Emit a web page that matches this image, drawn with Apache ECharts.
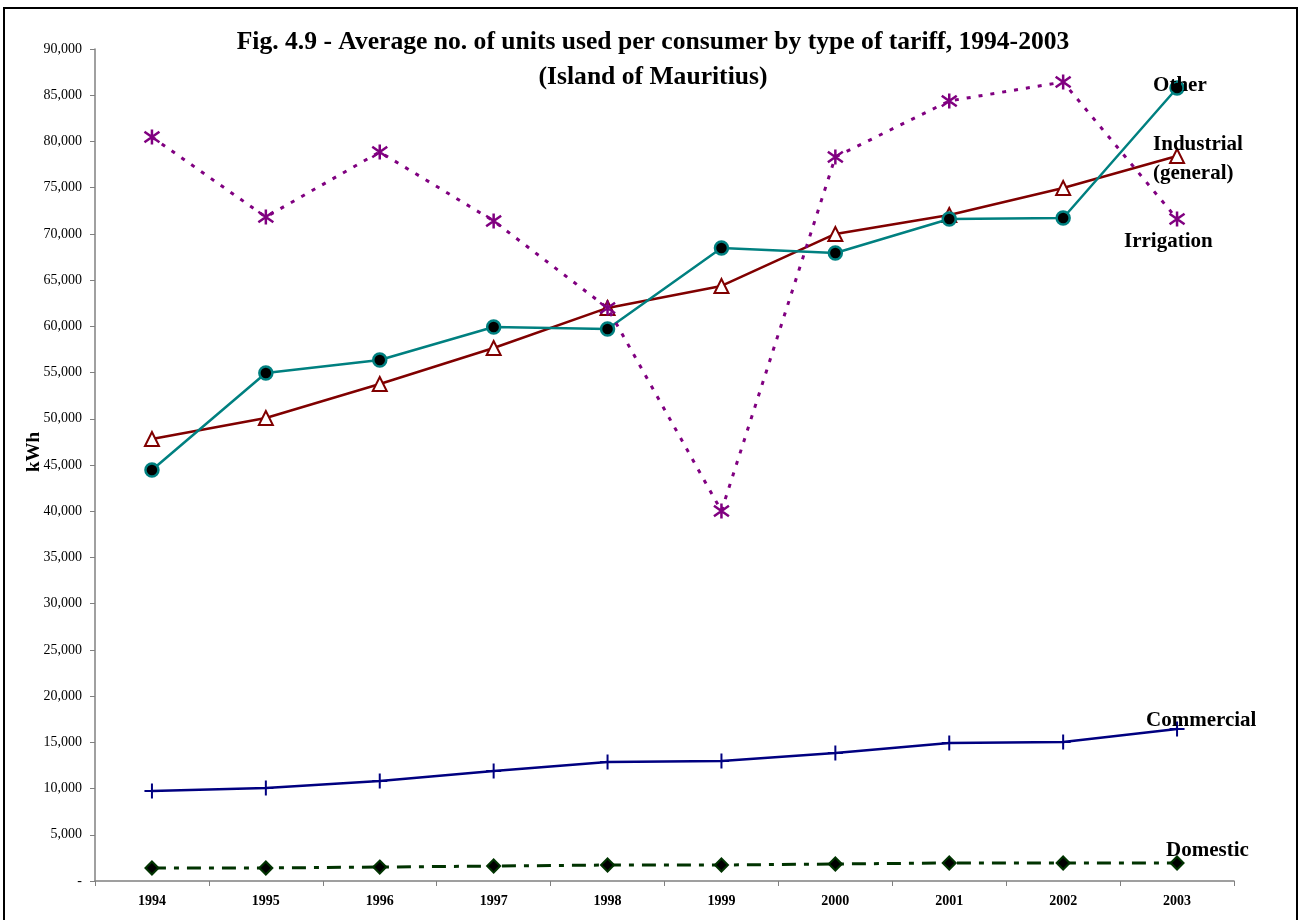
<!DOCTYPE html>
<html>
<head>
<meta charset="utf-8">
<script src="https://cdn.jsdelivr.net/npm/echarts@6/dist/echarts.min.js"></script>
<style>html,body{margin:0;padding:0;background:#fff}#c{width:1302px;height:920px}</style>
</head>
<body>
<div id="c"></div>
<script>
const years = ['1994','1995','1996','1997','1998','1999','2000','2001','2002','2003'];
const irrigation = [80480, 71830, 78860, 71400, 61990, 40030, 78320, 84380, 86430, 71610];
const other = [44460, 54950, 56360, 59930, 59710, 68480, 67940, 71610, 71720, 85780];
const industrial = [47810, 50090, 53760, 57660, 61990, 64370, 69990, 72050, 74970, 78430];
const commercial = [9740, 10060, 10820, 11900, 12870, 12980, 13850, 14930, 15040, 16440];
const domestic = [1410, 1410, 1510, 1620, 1730, 1730, 1840, 1950, 1950, 1950];

const FONT = '"Liberation Serif", "Times New Roman", serif';

function withEndLabel(arr, text, offset) {
  return arr.map((v, i) => i === arr.length - 1 ? {
    value: v,
    label: {
      show: true, position: 'inside', align: 'left', verticalAlign: 'middle',
      offset: offset, formatter: text, fontFamily: FONT, fontWeight: 'bold',
      fontSize: 21, color: '#000', lineHeight: 29
    }
  } : v);
}

const chart = echarts.init(document.getElementById('c'), null, {renderer: 'canvas'});
chart.setOption({
  animation: false,
  backgroundColor: '#fff',
  title: {
    text: 'Fig. 4.9 - Average no. of units used per consumer by type of tariff, 1994-2003\n(Island of Mauritius)',
    left: 648, top: 20, textAlign: 'center',
    textStyle: {fontFamily: FONT, fontWeight: 'bold', fontSize: 25.6, color: '#000', lineHeight: 35}
  },
  graphic: [{
    type: 'rect', shape: {x: 4, y: 8, width: 1293, height: 930},
    style: {fill: 'none', stroke: '#000', lineWidth: 2}, silent: true
  }],
  grid: {left: 95, right: 68, top: 49, bottom: 39},
  xAxis: {
    type: 'category', data: years, boundaryGap: true,
    axisLine: {lineStyle: {color: '#808080', width: 1.5}},
    axisTick: {show: true, length: 5, inside: false, lineStyle: {color: '#808080'}},
    axisLabel: {fontFamily: FONT, fontWeight: 'bold', fontSize: 14, color: '#000', margin: 13}
  },
  yAxis: {
    type: 'value', min: 0, max: 90000, interval: 5000,
    name: 'kWh', nameLocation: 'middle', nameRotate: 90, nameGap: 51, nameMoveOverlap: false,
    nameTextStyle: {fontFamily: FONT, fontWeight: 'bold', fontSize: 19, color: '#000', padding: [0, 0, 0, 26]},
    axisLine: {show: true, lineStyle: {color: '#808080', width: 1.5}},
    axisTick: {show: true, length: 5, lineStyle: {color: '#808080'}},
    splitLine: {show: false},
    axisLabel: {
      fontFamily: FONT, fontSize: 14, color: '#000', margin: 13,
      formatter: v => v === 0 ? '-' : v.toLocaleString('en-US')
    }
  },
  series: [
    {
      name: 'Domestic', type: 'line', data: withEndLabel(domestic, 'Domestic', [-11, -12]),
      symbol: 'diamond', symbolSize: 13,
      itemStyle: {color: '#000', borderColor: '#003300', borderWidth: 2},
      lineStyle: {color: '#003300', width: 3, type: [14, 8, 5, 8]}, z: 2
    },
    {
      name: 'Commercial', type: 'line', data: withEndLabel(commercial, 'Commercial', [-31, -8]),
      symbol: 'path://M0,-1L0,1M-1,0L1,0', symbolSize: 15,
      itemStyle: {color: 'none', borderColor: '#000080', borderWidth: 2},
      lineStyle: {color: '#000080', width: 2.5}, z: 2
    },
    {
      name: 'Industrial', type: 'line', data: withEndLabel(industrial, 'Industrial\n(general)', [-24, 3]),
      symbol: 'triangle', symbolSize: 14,
      itemStyle: {color: '#fff', borderColor: '#800000', borderWidth: 2},
      lineStyle: {color: '#800000', width: 2.5}, z: 3
    },
    {
      name: 'Other', type: 'line', data: withEndLabel(other, 'Other', [-24, -2]),
      symbol: 'circle', symbolSize: 13,
      itemStyle: {color: '#000', borderColor: '#008080', borderWidth: 2.5},
      lineStyle: {color: '#008080', width: 2.5}, z: 4
    },
    {
      name: 'Irrigation', type: 'line', data: withEndLabel(irrigation, 'Irrigation', [-53, 23]),
      symbol: 'path://M0,-1L0,1M-0.8,-0.7L0.8,0.7M-0.8,0.7L0.8,-0.7', symbolSize: 15,
      itemStyle: {color: 'none', borderColor: '#800080', borderWidth: 2.5},
      lineStyle: {color: '#800080', width: 3, type: [4, 8]}, z: 5
    }
  ]
});
</script>
</body>
</html>
